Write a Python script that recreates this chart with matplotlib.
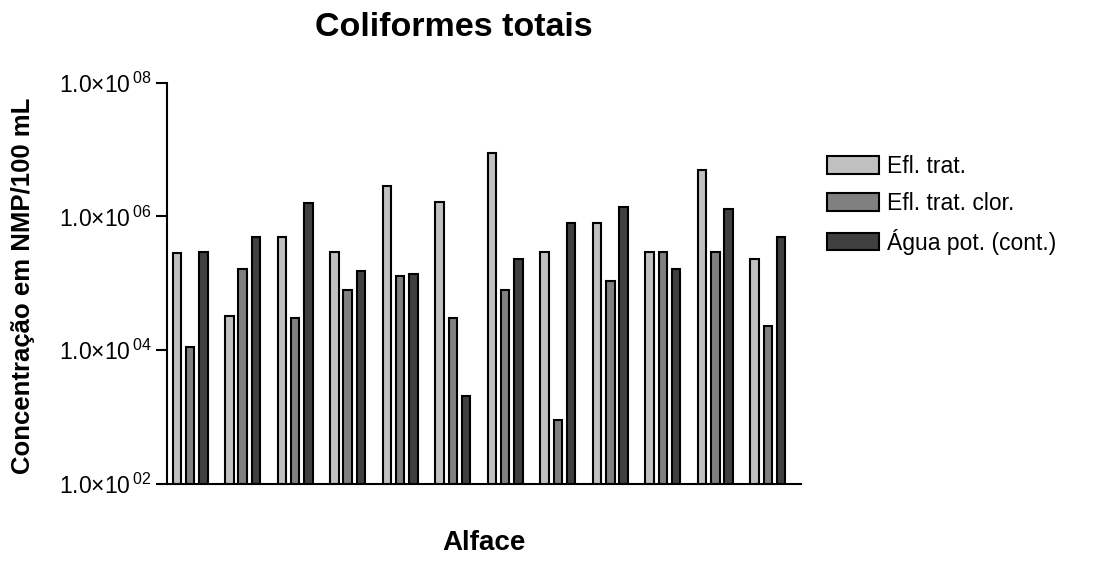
import matplotlib
matplotlib.use("Agg")
import matplotlib.pyplot as plt
import numpy as np
from matplotlib.ticker import FixedLocator, FuncFormatter, NullLocator

plt.rcParams['font.family'] = ['Liberation Sans', 'DejaVu Sans']
plt.rcParams['mathtext.default'] = 'regular'

# 12 amostras de alface, NMP/100 mL
amostras = list(range(1, 13))
efl_trat = [2.8e5, 3.25e4, 4.9e5, 2.9e5, 2.9e6, 1.65e6, 8.8e6, 2.9e5, 7.9e5, 2.9e5, 4.9e6, 2.3e5]
efl_trat_clor = [1.1e4, 1.65e5, 3.0e4, 7.9e4, 1.27e5, 3.0e4, 7.9e4, 8.0e2, 1.1e5, 2.9e5, 2.9e5, 2.3e4]
agua_pot = [2.9e5, 4.9e5, 1.6e6, 1.55e5, 1.38e5, 2.0e3, 2.35e5, 7.9e5, 1.38e6, 1.65e5, 1.28e6, 4.9e5]

series = [efl_trat, efl_trat_clor, agua_pot]
nomes = ['Efl. trat.', 'Efl. trat. clor.', 'Água pot. (cont.)']
cores = ['#c0c0c0', '#808080', '#404040']

fig = plt.figure(figsize=(11.18, 5.61), dpi=100)
ax = fig.add_axes([167/1118, 1 - 484/561, (801-167)/1118, (484-82.7)/561])

x = np.arange(len(amostras))
larg = 0.16
passo = 0.253
for i, (vals, nome, cor) in enumerate(zip(series, nomes, cores)):
    ax.bar(x + (i - 1) * passo, vals, width=larg, bottom=1e2, color=cor,
           edgecolor='black', linewidth=1.5, label=nome)

ax.set_yscale('log')
ax.set_ylim(1e2, 1e8)
ax.set_xlim(-0.44, 11.63)
ax.yaxis.set_major_locator(FixedLocator([1e2, 1e4, 1e6, 1e8]))
ax.yaxis.set_minor_locator(NullLocator())
ax.yaxis.set_major_formatter(FuncFormatter(
    lambda v, p: r'1.0×10$^{\,%02d}$' % int(round(np.log10(v)))))
ax.tick_params(axis='y', direction='out', length=8, width=1.5, labelsize=16.5, pad=3)
ax.set_xticks([])

ax.spines['top'].set_visible(False)
ax.spines['right'].set_visible(False)
ax.spines['left'].set_linewidth(1.5)
ax.spines['bottom'].set_linewidth(1.5)

fig.text(454/1118, 1 - 27/561, 'Coliformes totais', ha='center', va='center',
         fontsize=24.5, fontweight='bold')
fig.text(484/1118, 1 - 543/561, 'Alface', ha='center', va='center',
         fontsize=20, fontweight='bold')
fig.text(23/1118, 1 - 286/561, 'Concentração em NMP/100 mL', ha='center', va='center',
         rotation=90, fontsize=18.5, fontweight='bold')

ax.legend(loc='upper left', bbox_to_anchor=(827/1118, 1 - 155/561),
          bbox_transform=fig.transFigure, frameon=False, fontsize=16.5,
          handlelength=2.25, handleheight=0.8, handletextpad=0.35,
          labelspacing=0.6, borderaxespad=0, borderpad=0)

fig.savefig('out.png', dpi=100)
